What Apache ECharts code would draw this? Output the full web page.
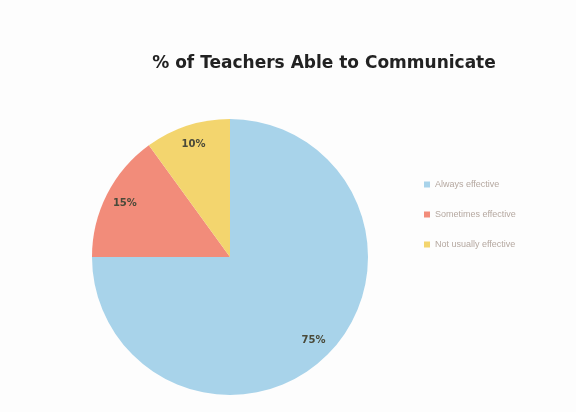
<!DOCTYPE html>
<html>
<head>
<meta charset="utf-8">
<script src="https://cdn.jsdelivr.net/npm/echarts@6/dist/echarts.min.js"></script>
<style>
html,body{margin:0;padding:0;background:#fdfdfd;}
#chart{width:576px;height:412px;}
</style>
</head>
<body>
<div id="chart"></div>
<script>
const titleText = '% of Teachers Able to Communicate';
const categories = ['Always effective', 'Sometimes effective', 'Not usually effective'];
const values = [75, 15, 10];
const colors = ['#a8d3ea', '#f28c7a', '#f3d56e'];

const data = categories.map((c, i) => ({ name: c, value: values[i], itemStyle: { color: colors[i] } }));

const chart = echarts.init(document.getElementById('chart'));
chart.setOption({
  backgroundColor: '#fdfdfd',
  animation: false,
  title: {
    text: titleText,
    left: 319,
    top: 50,
    textAlign: 'center',
    textStyle: { fontFamily: 'DejaVu Sans', fontWeight: 'bold', fontSize: 17, color: '#222' }
  },
  legend: {
    orient: 'vertical',
    left: 419,
    top: 175,
    itemGap: 21,
    itemWidth: 6,
    itemHeight: 6,
    itemStyle: { borderWidth: 0 },
    icon: 'rect',
    data: categories,
    textStyle: { fontFamily: 'Liberation Sans', fontSize: 9, color: '#b5a8a0' }
  },
  series: [
    {
      type: 'pie',
      center: [230, 257],
      radius: [0, 138],
      startAngle: 90,
      clockwise: true,
      label: { show: false },
      labelLine: { show: false },
      itemStyle: { borderWidth: 0 },
      emphasis: { disabled: true },
      data: data
    },
    {
      type: 'pie',
      center: [230, 257],
      radius: [92, 138],
      startAngle: 90,
      clockwise: true,
      silent: true,
      legendHoverLink: false,
      itemStyle: { color: 'rgba(0,0,0,0)', borderWidth: 0 },
      label: {
        show: true,
        position: 'inside',
        formatter: p => p.value + '%',
        fontFamily: 'DejaVu Sans',
        fontWeight: 'bold',
        fontSize: 10,
        color: '#4a4a3a'
      },
      labelLine: { show: false },
      data: categories.map((c, i) => ({ name: c + ' ', value: values[i] }))
    }
  ]
});
</script>
</body>
</html>
